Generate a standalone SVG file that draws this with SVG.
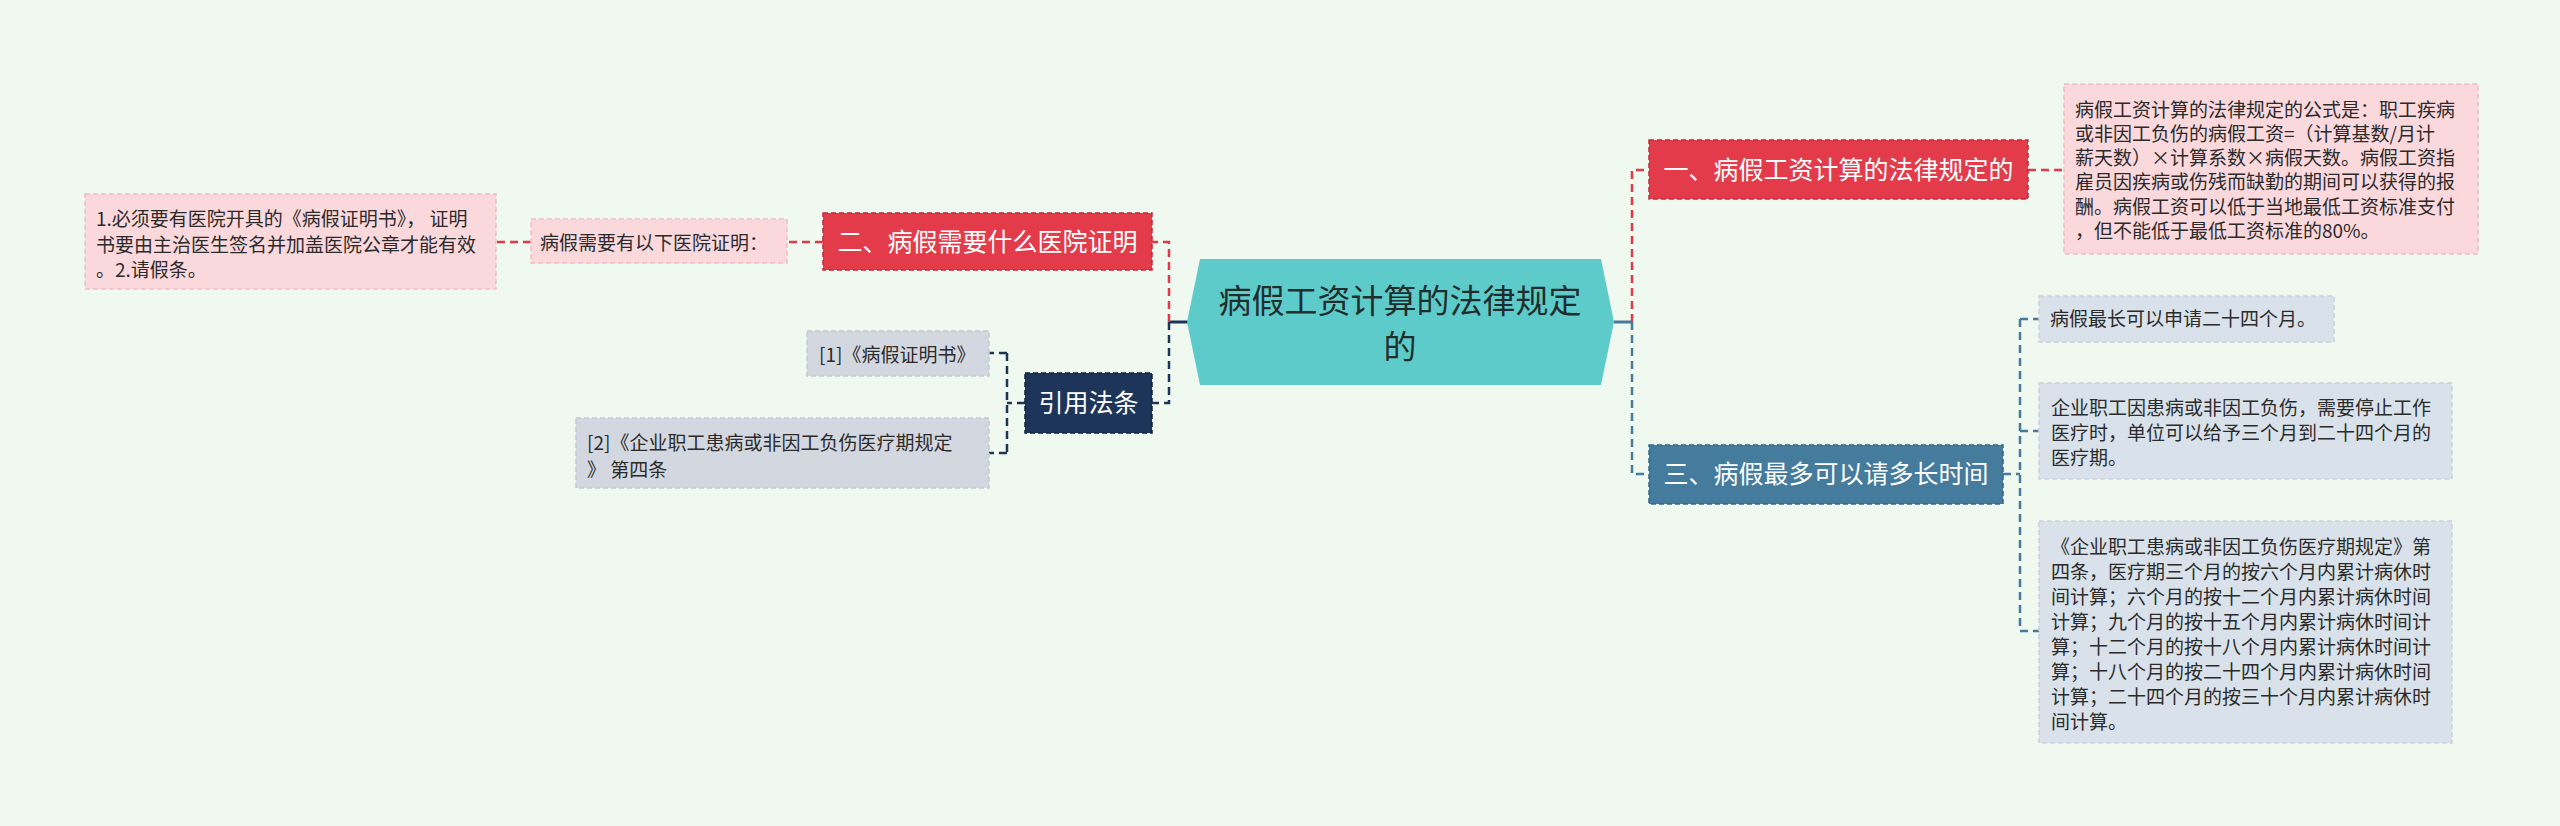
<svg xmlns="http://www.w3.org/2000/svg" width="2560" height="826" viewBox="0 0 2560 826">
<style>
.t{font-family:"Noto Sans CJK SC","Noto Sans",sans-serif;}
.big{font-size:25px;fill:#ffffff;text-anchor:middle;}
.sm{font-size:19px;fill:#2b2b2b;}
.pk{fill:#fad8dc;stroke:#f2bcc3;stroke-width:1.5;stroke-dasharray:5 3;}
.gy{fill:#d3d8e0;stroke:#c3cad4;stroke-width:1.5;stroke-dasharray:5 3;}
.bg2{fill:#d9e2ea;stroke:#c8d3de;stroke-width:1.5;stroke-dasharray:5 3;}
.red{fill:#e33b4a;stroke:#c42a39;stroke-width:1.5;stroke-dasharray:5 3;}
.navy{fill:#1d3559;stroke:#0f2240;stroke-width:1.5;stroke-dasharray:5 3;}
.steel{fill:#457b9d;stroke:#34668a;stroke-width:1.5;stroke-dasharray:5 3;}
.c{fill:none;stroke-width:2.5;stroke-dasharray:8 5;}
.cr{stroke:#e03a49;}
.cn{stroke:#1d3559;}
.cs{stroke:#457b9d;}
</style>
<rect x="0" y="0" width="2560" height="826" fill="#f0f9ef"/>
<g id="connectors">
<path d="M1188 322 H1169" fill="none" stroke="#1d3559" stroke-width="3"/>
<path d="M1614 322 H1632" fill="none" stroke="#457b9d" stroke-width="3"/>
<path class="c cr" d="M1632 322 V170 H1649"/>
<path class="c cs" d="M1632 322 V474 H1649"/>
<path class="c cr" d="M2028 170 H2064"/>
<path class="c cs" d="M2003 474 H2020"/>
<path class="c cs" d="M2020 319 V631"/>
<path class="c cs" d="M2020 319 H2039 M2020 431 H2039 M2020 631 H2039"/>
<path class="c cr" d="M1169 322 V242 H1152"/>
<path class="c cn" d="M1169 322 V403 H1152"/>
<path class="c cr" d="M823 242 H787"/>
<path class="c cr" d="M531 242 H496"/>
<path class="c cn" d="M1025 403 H1007"/>
<path class="c cn" d="M1007 353 V453"/>
<path class="c cn" d="M1007 353 H989 M1007 453 H989"/>
</g>
<g id="root">
<polygon points="1200,259 1601,259 1614,322 1601,385 1200,385 1187,322" fill="#5ecbcb"/>
<text class="t" x="1400" y="313" font-size="33" fill="#1f2d2d" text-anchor="middle">病假工资计算的法律规定</text>
<text class="t" x="1400" y="359" font-size="33" fill="#1f2d2d" text-anchor="middle">的</text>
</g>
<g id="n1">
<rect class="red" x="1649" y="140" width="379" height="59"/>
<text class="t big" x="1838.5" y="179">一、病假工资计算的法律规定的</text>
</g>
<g id="n1a">
<rect class="pk" x="2064" y="84" width="414" height="170"/>
<text class="t sm" x="2075" y="117">病假工资计算的法律规定的公式是：职工疾病</text>
<text class="t sm" x="2075" y="141">或非因工负伤的病假工资=（计算基数/月计</text>
<text class="t sm" x="2075" y="165">薪天数）×计算系数×病假天数。病假工资指</text>
<text class="t sm" x="2075" y="189">雇员因疾病或伤残而缺勤的期间可以获得的报</text>
<text class="t sm" x="2075" y="214">酬。病假工资可以低于当地最低工资标准支付</text>
<text class="t sm" x="2075" y="238">，但不能低于最低工资标准的80%。</text>
</g>
<g id="n2">
<rect class="red" x="823" y="213" width="329" height="57"/>
<text class="t big" x="987.5" y="251">二、病假需要什么医院证明</text>
</g>
<g id="n2a">
<rect class="pk" x="531" y="219" width="256" height="44"/>
<text class="t sm" x="540" y="250">病假需要有以下医院证明：</text>
</g>
<g id="n2b">
<rect class="pk" x="85" y="194" width="411" height="95"/>
<text class="t sm" x="96" y="226" xml:space="preserve">1.必须要有医院开具的《病假证明书》， 证明</text>
<text class="t sm" x="96" y="252">书要由主治医生签名并加盖医院公章才能有效</text>
<text class="t sm" x="96" y="277">。2.请假条。</text>
</g>
<g id="n4">
<rect class="navy" x="1025" y="373" width="127" height="60"/>
<text class="t big" x="1088.5" y="412">引用法条</text>
</g>
<g id="n4a">
<rect class="gy" x="807" y="331" width="182" height="45"/>
<text class="t sm" x="819" y="362">[1]《病假证明书》</text>
</g>
<g id="n4b">
<rect class="gy" x="576" y="418" width="413" height="70"/>
<text class="t sm" x="587" y="450">[2]《企业职工患病或非因工负伤医疗期规定</text>
<text class="t sm" x="587" y="477">》 第四条</text>
</g>
<g id="n3">
<rect class="steel" x="1649" y="445" width="354" height="59"/>
<text class="t big" x="1826" y="483">三、病假最多可以请多长时间</text>
</g>
<g id="n3a">
<rect class="bg2" x="2039" y="296" width="295" height="46"/>
<text class="t sm" x="2050" y="326">病假最长可以申请二十四个月。</text>
</g>
<g id="n3b">
<rect class="bg2" x="2039" y="383" width="413" height="96"/>
<text class="t sm" x="2051" y="415">企业职工因患病或非因工负伤，需要停止工作</text>
<text class="t sm" x="2051" y="440">医疗时，单位可以给予三个月到二十四个月的</text>
<text class="t sm" x="2051" y="465">医疗期。</text>
</g>
<g id="n3c">
<rect class="bg2" x="2039" y="521" width="413" height="222"/>
<text class="t sm" x="2051" y="554">《企业职工患病或非因工负伤医疗期规定》第</text>
<text class="t sm" x="2051" y="579">四条，医疗期三个月的按六个月内累计病休时</text>
<text class="t sm" x="2051" y="604">间计算；六个月的按十二个月内累计病休时间</text>
<text class="t sm" x="2051" y="629">计算；九个月的按十五个月内累计病休时间计</text>
<text class="t sm" x="2051" y="654">算；十二个月的按十八个月内累计病休时间计</text>
<text class="t sm" x="2051" y="679">算；十八个月的按二十四个月内累计病休时间</text>
<text class="t sm" x="2051" y="704">计算；二十四个月的按三十个月内累计病休时</text>
<text class="t sm" x="2051" y="729">间计算。</text>
</g>
</svg>
